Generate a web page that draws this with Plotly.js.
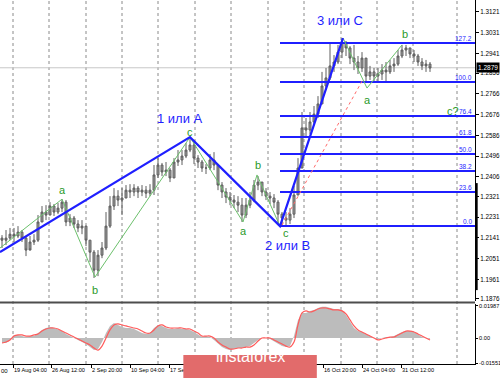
<!DOCTYPE html>
<html><head><meta charset="utf-8">
<script src="https://cdn.plot.ly/plotly-3.0.1.min.js"></script>
<style>html,body{margin:0;padding:0;background:#fff}#chart{width:500px;height:379px}</style>
</head><body><div id="chart"></div>
<script>
// ---- price candles (H4) ----
const firstOpen = 1.2140;
const closes = [
1.2131,1.2140,1.2157,1.2149,1.2166,1.2140,1.2088,1.2123,1.2131,1.2210,
1.2253,1.2240,1.2279,1.2253,1.2270,1.2296,1.2210,1.2227,1.2201,1.2184,
1.2192,1.2131,1.2079,1.2001,1.2066,1.2097,1.2192,1.2279,1.2322,1.2305,
1.2314,1.2348,1.2340,1.2357,1.2340,1.2348,1.2335,1.2348,1.2414,1.2457,
1.2427,1.2435,1.2401,1.2470,1.2479,1.2496,1.2522,1.2544,1.2487,1.2470,
1.2444,1.2444,1.2479,1.2457,1.2370,1.2340,1.2318,1.2305,1.2296,1.2283,
1.2240,1.2283,1.2305,1.2370,1.2383,1.2340,1.2322,1.2314,1.2296,1.2244,
1.2227,1.2218,1.2244,1.2327,1.2444,1.2618,1.2609,1.2644,1.2678,1.2722,
1.2800,1.2835,1.2887,1.2904,1.2947,1.2991,1.2965,1.2921,1.2904,1.2878,
1.2921,1.2843,1.2861,1.2843,1.2852,1.2869,1.2861,1.2887,1.2895,1.2930,
1.2956,1.2965,1.2939,1.2930,1.2904,1.2887,1.2895,1.2878];
const highs = [
1.2153,1.2175,1.2184,1.2184,1.2192,1.2175,1.2149,1.2149,1.2157,1.2240,
1.2279,1.2283,1.2296,1.2288,1.2292,1.2309,1.2305,1.2244,1.2236,1.2218,
1.2218,1.2192,1.2131,1.2088,1.2088,1.2123,1.2253,1.2322,1.2357,1.2348,
1.2357,1.2370,1.2374,1.2374,1.2366,1.2370,1.2366,1.2374,1.2457,1.2487,
1.2466,1.2470,1.2444,1.2487,1.2522,1.2522,1.2552,1.2578,1.2565,1.2500,
1.2479,1.2461,1.2505,1.2513,1.2457,1.2383,1.2357,1.2340,1.2327,1.2322,
1.2314,1.2314,1.2340,1.2392,1.2409,1.2383,1.2357,1.2340,1.2331,1.2305,
1.2253,1.2253,1.2270,1.2366,1.2487,1.2687,1.2661,1.2687,1.2713,1.2756,
1.2861,1.2878,1.2986,1.2934,1.2978,1.3008,1.2991,1.2973,1.2978,1.2930,
1.2947,1.2921,1.2887,1.2878,1.2878,1.2895,1.2904,1.2913,1.2921,1.2956,
1.2978,1.2978,1.2965,1.2956,1.2939,1.2921,1.2913,1.2904];
const lows = [
1.2097,1.2110,1.2131,1.2123,1.2140,1.2123,1.2062,1.2097,1.2110,1.2123,
1.2210,1.2218,1.2240,1.2236,1.2244,1.2253,1.2192,1.2192,1.2184,1.2166,
1.2157,1.2105,1.2036,1.1967,1.1975,1.2053,1.2088,1.2184,1.2262,1.2279,
1.2240,1.2314,1.2314,1.2322,1.2314,1.2322,1.2314,1.2322,1.2327,1.2401,
1.2409,1.2409,1.2383,1.2401,1.2453,1.2457,1.2487,1.2513,1.2461,1.2444,
1.2427,1.2418,1.2435,1.2435,1.2348,1.2314,1.2292,1.2283,1.2270,1.2253,
1.2210,1.2227,1.2270,1.2296,1.2348,1.2322,1.2305,1.2288,1.2270,1.2201,
1.2192,1.2192,1.2201,1.2227,1.2327,1.2444,1.2574,1.2591,1.2635,1.2661,
1.2722,1.2782,1.2826,1.2861,1.2895,1.2921,1.2930,1.2895,1.2869,1.2852,
1.2861,1.2817,1.2826,1.2817,1.2817,1.2826,1.2817,1.2852,1.2861,1.2887,
1.2921,1.2930,1.2921,1.2904,1.2887,1.2869,1.2861,1.2861];

// ---- oscillator (MACD histogram + signal) ----
const macdHist = [
-0.0031,-0.0031,-0.0012,0.0019,0.0019,0.0012,0.0006,0.0012,0.0012,0.0031,
0.0050,0.0062,0.0068,0.0062,0.0050,0.0043,0.0025,0.0012,0.0000,-0.0012,
-0.0025,-0.0037,-0.0056,-0.0075,-0.0068,-0.0025,0.0031,0.0075,0.0093,0.0081,
0.0068,0.0062,0.0062,0.0056,0.0043,0.0031,0.0025,0.0031,0.0062,0.0081,
0.0075,0.0062,0.0056,0.0056,0.0062,0.0056,0.0056,0.0050,0.0037,0.0019,
0.0006,0.0012,0.0006,-0.0012,-0.0037,-0.0056,-0.0068,-0.0075,-0.0068,-0.0062,
-0.0062,-0.0056,-0.0050,-0.0031,-0.0012,0.0000,0.0000,-0.0006,-0.0019,-0.0037,
-0.0050,-0.0056,-0.0050,0.0012,0.0112,0.0155,0.0155,0.0168,0.0174,0.0186,
0.0193,0.0193,0.0186,0.0180,0.0180,0.0174,0.0143,0.0099,0.0062,0.0043,
0.0037,0.0025,0.0012,0.0000,-0.0006,0.0000,0.0006,0.0006,0.0012,0.0025,
0.0037,0.0043,0.0043,0.0037,0.0019,0.0006,0.0000,-0.0006];
const macdSignal = [
-0.0031,-0.0025,-0.0012,0.0012,0.0019,0.0019,0.0012,0.0012,0.0019,0.0025,
0.0043,0.0056,0.0062,0.0062,0.0056,0.0043,0.0031,0.0019,0.0006,-0.0006,
-0.0019,-0.0031,-0.0043,-0.0062,-0.0075,-0.0050,0.0000,0.0050,0.0081,0.0087,
0.0081,0.0075,0.0068,0.0062,0.0056,0.0043,0.0031,0.0031,0.0050,0.0075,
0.0081,0.0068,0.0062,0.0062,0.0062,0.0062,0.0056,0.0056,0.0043,0.0031,
0.0012,0.0012,0.0012,0.0000,-0.0025,-0.0043,-0.0056,-0.0068,-0.0068,-0.0062,
-0.0062,-0.0056,-0.0056,-0.0043,-0.0019,0.0000,0.0000,0.0000,-0.0012,-0.0025,
-0.0037,-0.0050,-0.0056,-0.0025,0.0081,0.0155,0.0168,0.0161,0.0168,0.0180,
0.0186,0.0186,0.0180,0.0174,0.0174,0.0168,0.0149,0.0112,0.0075,0.0050,
0.0037,0.0025,0.0012,0.0000,-0.0012,-0.0006,0.0000,0.0006,0.0006,0.0019,
0.0031,0.0043,0.0043,0.0037,0.0025,0.0012,0.0000,-0.0012];

// ---- axis ticks ----
const priceTicks = [1.3121,1.3031,1.2941,1.2856,1.2766,1.2676,1.2586,1.2496,1.2406,1.2321,1.2231,1.2141,1.2051,1.1961,1.1876];
const oscTicks = [0.01987, 0, -0.01551];
const oscTickText = ['0.01987','0.00','-0.01551'];
const dateLabels = ['19 Aug 04:00','26 Aug 12:00','2 Sep 20:00','10 Sep 04:00','17 Sep 12:00','24 Sep 20:00','2 Oct 04:00','9 Oct 12:00','16 Oct 20:00','24 Oct 04:00','31 Oct 12:00'];
const dateBars = [2.75,12.25,22.25,32,41.75,51.5,61.25,71,80.25,90,99.75];
const currentPrice = 1.2879;

// ---- wave markup ----
const waveMainX = [-0.5, 47, 69.5, 85.25];
const waveMainY = [1.2079, 1.2578, 1.2192, 1.3008];
const waveMainText = ['1 или A','2 или B','3 или C'];
const waveMainTextX = [44.5, 71.25, 84.5];
const waveMainTextY = [1.2659, 1.2110, 1.3086];
const subWave1X = [-0.5, 15, 23.25, 47];
const subWave1Y = [1.2097, 1.2309, 1.1971, 1.2578];
const subWave2X = [47, 60.25, 63.75, 69.5];
const subWave2Y = [1.2578, 1.2210, 1.2414, 1.2192];
const subWave3X = [85.25, 91.25, 100];
const subWave3Y = [1.3008, 1.2791, 1.2978];
const subText = ['a','b','c','a','b','c','a','b','c?'];
const subTextX = [15, 23.25, 47, 60.25, 64, 71, 91.25, 100.75, 112.75];
const subTextY = [1.2348, 1.1914, 1.2601, 1.2170, 1.2457, 1.2160, 1.2739, 1.3025, 1.2691];
const trendX = [70, 90];
const trendY = [1.2196, 1.2821];
const fibRatios = [0.0, 23.6, 38.2, 50.0, 61.8, 76.4, 100.0, 127.2];
const fibLow = 1.2193, fibHigh = 1.2817;

// ---- build ----
const X_END = 118.25;
const xs = closes.map((_, i) => i);
const opens = closes.map((c, i) => i === 0 ? firstOpen : closes[i - 1]);
const BLUE = '#1f1fff', GREEN = '#2a9a2a';

const traces = [];
traces.push({type:'candlestick', x:xs, open:opens, high:highs, low:lows, close:closes,
  xaxis:'x', yaxis:'y', whiskerwidth:0, hoverinfo:'skip',
  increasing:{line:{color:'#5e5e5e', width:1}, fillcolor:'#a0a0a0'},
  decreasing:{line:{color:'#5e5e5e', width:1}, fillcolor:'#a0a0a0'}});

const fibAnn = [];
fibRatios.forEach(r => {
  const lvl = fibLow + r / 100 * (fibHigh - fibLow);
  traces.push({type:'scatter', mode:'lines', x:[waveMainX[2], X_END], y:[lvl, lvl],
    line:{color:BLUE, width:2}, xaxis:'x', yaxis:'y', hoverinfo:'skip'});
  fibAnn.push({xref:'x', yref:'y', x:118.1, y:lvl, text:r.toFixed(1), showarrow:false,
    xanchor:'right', yanchor:'bottom', yshift:-1, font:{size:6.5, color:BLUE}});
});

traces.push({type:'scatter', mode:'lines', x:trendX, y:trendY, line:{color:'#ff6a6a', width:1, dash:'dot'}, xaxis:'x', yaxis:'y', hoverinfo:'skip'});
[[subWave1X, subWave1Y],[subWave2X, subWave2Y],[subWave3X, subWave3Y]].forEach(([wx, wy]) => {
  traces.push({type:'scatter', mode:'lines', x:wx, y:wy, line:{color:'#6cc06c', width:1}, xaxis:'x', yaxis:'y', hoverinfo:'skip'});
});
traces.push({type:'scatter', mode:'lines', x:waveMainX, y:waveMainY, line:{color:BLUE, width:2.2}, xaxis:'x', yaxis:'y', hoverinfo:'skip'});

traces.push({type:'scatter', mode:'lines', x:xs, y:macdHist, fill:'tozeroy', fillcolor:'#bcbcbc',
  line:{width:0, color:'#bcbcbc'}, xaxis:'x2', yaxis:'y2', hoverinfo:'skip'});
traces.push({type:'scatter', mode:'lines', x:xs, y:macdSignal, line:{color:'#ff5a5a', width:1.2, shape:'spline'},
  xaxis:'x2', yaxis:'y2', hoverinfo:'skip'});

const annotations = [];
waveMainText.forEach((t, i) => annotations.push({xref:'x', yref:'y', x:waveMainTextX[i], y:waveMainTextY[i], text:t,
  showarrow:false, borderpad:0, font:{size:13, color:BLUE, family:'Liberation Sans, Arial, sans-serif'}}));
subText.forEach((t, i) => annotations.push({xref:'x', yref:'y', x:subTextX[i], y:subTextY[i], text:t,
  showarrow:false, borderpad:0, font:{size:11, color:GREEN, family:'Liberation Sans, Arial, sans-serif'}}));
fibAnn.forEach(a => annotations.push(a));
annotations.push({xref:'paper', yref:'y', x:1.0, y:currentPrice, xanchor:'left', xshift:1, text:currentPrice.toFixed(4),
  showarrow:false, bgcolor:'#000', borderpad:1, font:{size:6.5, color:'#fff'}});
annotations.push({xref:'paper', yref:'paper', x:0.5265, y:-0.0096, text:'instaforex', showarrow:false,
  font:{size:16, color:'#ffffff', family:'Liberation Sans, Arial, sans-serif'}});
annotations.push({xref:'paper', yref:'paper', x:0, y:-0.009, xanchor:'left', yanchor:'top', text:'00', showarrow:false,
  borderpad:0, font:{size:6, color:'#000'}});

const gridBars = [2.75, 11.75, 21, 30, 39, 48.25, 57.25, 66.5, 75.5, 84.75, 93.75, 102.75, 113.75];
const shapes = gridBars.map(g => ({type:'line', xref:'x', yref:'paper', x0:g, x1:g, y0:0, y1:1,
  line:{color:'#8a8a8a', width:1, dash:'dot'}, layer:'below'}));
shapes.push({type:'line', xref:'paper', yref:'y', x0:0, x1:1, y0:currentPrice, y1:currentPrice,
  line:{color:'#c8c8c8', width:1}, layer:'below'});
shapes.push({type:'rect', xref:'paper', yref:'paper', x0:0, x1:1, y0:0.1662, y1:0.1717,
  fillcolor:'#4d4d4d', line:{width:0}, layer:'above'});
shapes.push({type:'line', xref:'paper', yref:'paper', x0:1.003, x1:1.003, y0:0.203, y1:0.497,
  line:{color:'#000', width:2.5}, layer:'above'});
shapes.push({type:'rect', xref:'paper', yref:'paper', x0:0.386, x1:0.667, y0:-0.0385, y1:0.0245,
  fillcolor:'#e26b6b', line:{width:0}, layer:'above'});

const layout = {
  width:500, height:379, margin:{l:0, r:25, t:0, b:15},
  paper_bgcolor:'#ffffff', plot_bgcolor:'#ffffff', showlegend:false, hovermode:false,
  font:{family:'Liberation Sans, Arial, sans-serif', size:6.5, color:'#000'},
  xaxis:{domain:[0,1], anchor:'y', range:[-0.5, X_END], autorange:false, rangeslider:{visible:false},
    showticklabels:false, showgrid:false, zeroline:false, showline:false, ticks:''},
  xaxis2:{domain:[0,1], anchor:'y2', matches:'x', range:[-0.5, X_END], autorange:false,
    tickmode:'array', tickvals:dateBars, ticktext:dateLabels, tickangle:0, ticks:'outside', ticklen:3, tickcolor:'#000',
    ticklabelposition:'outside right', showline:true, linecolor:'#000', linewidth:1,
    showgrid:false, zeroline:false, tickfont:{size:5.6}},
  yaxis:{domain:[0.173,1], anchor:'x', side:'right', range:[1.1867, 1.3173], autorange:false,
    tickmode:'array', tickvals:priceTicks, ticktext:priceTicks.map(v => v.toFixed(4)),
    ticks:'outside', ticklen:3, tickcolor:'#000', showline:true, linecolor:'#000', linewidth:1,
    showgrid:false, zeroline:false, tickfont:{size:6.3}},
  yaxis2:{domain:[0,0.165], anchor:'x2', side:'right', range:[-0.0161, 0.0211], autorange:false,
    tickmode:'array', tickvals:oscTicks, ticktext:oscTickText,
    ticks:'outside', ticklen:2, tickcolor:'#000', showline:true, linecolor:'#000', linewidth:1,
    showgrid:false, zeroline:false, tickfont:{size:5.6}},
  shapes:shapes, annotations:annotations
};

Plotly.newPlot('chart', traces, layout, {staticPlot:true, displayModeBar:false});
</script></body></html>
